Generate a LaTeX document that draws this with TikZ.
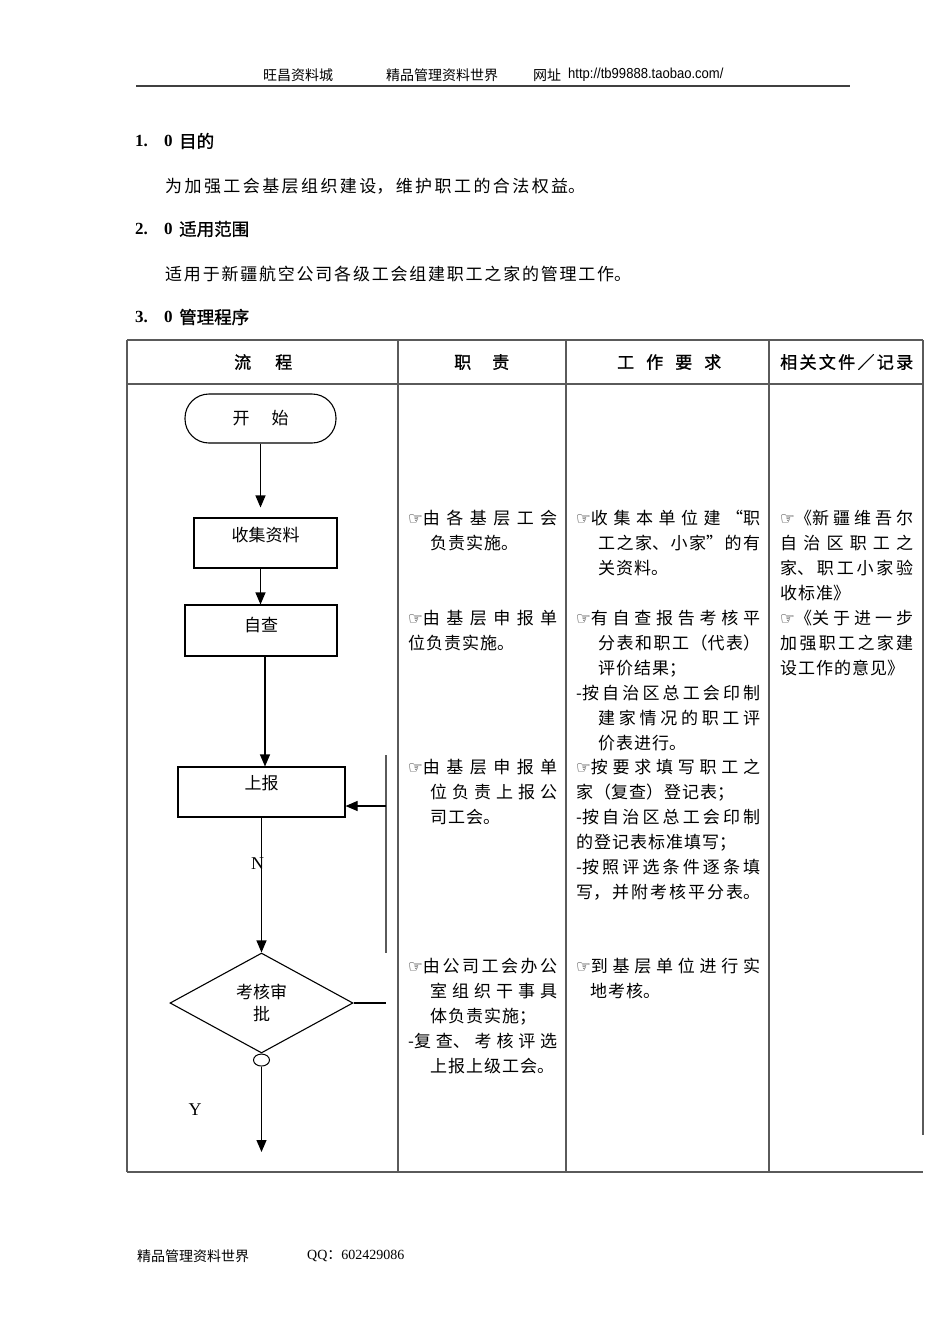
\documentclass[tikz,border=0pt]{standalone}
\usepackage{fontspec}
\setmainfont{Liberation Serif}
\newfontfamily\cjk{Noto Sans CJK SC}
\newfontfamily\cjkbf[FakeBold=1.2]{Noto Sans CJK SC}
\newfontfamily\handfont{DejaVu Sans}
\newfontfamily\narrowsans[FakeStretch=0.9]{Liberation Sans}
\usepackage{tikz}
\usetikzlibrary{positioning, arrows.meta, shapes.geometric}
\XeTeXlinebreaklocale "zh"
\XeTeXlinebreakskip=1pt plus 1fil
\newcommand{\hand}{{\handfont\fontsize{16.5}{16.5}\selectfont ☞}}
\newcommand{\jline}[2][0pt]{{\leftskip=#1\parfillskip=0pt #2\par}}
\newcommand{\rline}[2][0pt]{{\leftskip=#1\parfillskip=0pt plus 1fill #2\par}}
\definecolor{rulegray}{HTML}{5A5A5A}
\begin{document}
\begin{tikzpicture}[x=1pt,y=-1pt,
  cell/.style={anchor=base west, inner sep=0pt, text width=#1, align=justify,
    font=\cjk\fontsize{17}{25}\selectfont},
  headcell/.style={cell=#1, font=\cjkbf\fontsize{17}{25}\selectfont},
  plain/.style={anchor=west, inner sep=0pt},
  grid/.style={draw=rulegray, line width=1.2pt},
  flowbox/.style={draw, rectangle, line width=1.1pt, font=\cjk\fontsize{17}{20}\selectfont},
  terminal/.style={flowbox, rounded corners=24pt, minimum width=151pt, minimum height=49pt},
  decision/.style={draw, diamond, line width=1.1pt, minimum width=183pt, minimum height=100pt,
    inner sep=0pt, align=center, font=\cjk\fontsize{17}{22}\selectfont},
  joint/.style={draw, ellipse, line width=1pt, minimum width=16pt, minimum height=12pt, inner sep=0pt},
  flow/.style={draw, line width=1.1pt, -{Triangle[width=10pt,length=12pt]}},
  flowline/.style={draw, line width=1.1pt},
  backline/.style={draw=rulegray, line width=1.8pt},
  letter/.style={inner sep=0pt, font=\fontsize{18}{18}\selectfont}]

  \fill[white] (0,0) rectangle (950,1344);
  \useasboundingbox (0,0) rectangle (950,1344);

  % page header
  \node[plain, font=\cjk\fontsize{14}{14}\selectfont] (hd1) at (263,75) {旺昌资料城};
  \node[plain, font=\cjk\fontsize{14}{14}\selectfont] (hd2) at (386,75) {精品管理资料世界};
  \node[plain, font=\cjk\fontsize{14}{14}\selectfont] (hd3) at (533,75) {网址};
  \node[plain, font=\narrowsans\fontsize{14.5}{14.5}\selectfont] (hd4) at (568,75) {http://tb99888.taobao.com/};
  \draw[draw=black!75, line width=2pt] (136,86) -- (850,86);

  % sections
  \node[plain, font=\bfseries\fontsize{17}{17}\selectfont] (s1a) at (135,141) {1.};
  \node[plain, font=\bfseries\fontsize{17}{17}\selectfont] (s1b) at (164,141) {0};
  \node[plain, font=\cjkbf\fontsize{17.5}{17.5}\selectfont] (s1c) at (179,141) {目的};
  \node[cell=420pt] (p1) at (165,192.5) {\jline{为加强工会基层组织建设，维护职工的合法权益。}};

  \node[plain, font=\bfseries\fontsize{17}{17}\selectfont] (s2a) at (135,229) {2.};
  \node[plain, font=\bfseries\fontsize{17}{17}\selectfont] (s2b) at (164,229) {0};
  \node[plain, font=\cjkbf\fontsize{17.5}{17.5}\selectfont] (s2c) at (179,229) {适用范围};
  \node[cell=466pt] (p2) at (165,280.5) {\jline{适用于新疆航空公司各级工会组建职工之家的管理工作。}};

  \node[plain, font=\bfseries\fontsize{17}{17}\selectfont] (s3a) at (135,317) {3.};
  \node[plain, font=\bfseries\fontsize{17}{17}\selectfont] (s3b) at (164,317) {0};
  \node[plain, font=\cjkbf\fontsize{17.5}{17.5}\selectfont] (s3c) at (179,317) {管理程序};

  % table grid
  \draw[grid] (127,340) -- (923,340);
  \draw[grid] (127,384) -- (923,384);
  \draw[grid] (127,1172) -- (923,1172);
  \foreach \x in {127,398,566,769} {
    \draw[grid] (\x,340) -- (\x,1172);
  }
  \draw[grid] (923,340) -- (923,1135);

  % table head
  \node[headcell=58pt] (h1) at (234,368.5) {\jline{流程}};
  \node[headcell=55pt] (h2) at (454,368.5) {\jline{职责}};
  \node[headcell=104pt] (h3) at (617,368.5) {\jline{工作要求}};
  \node[headcell=133pt] (h4) at (780,368.5) {\jline{相关文件／记录}};

  % flow chart
  \node[terminal] (start) at (260.5,418.5) {开\hspace{22pt}始};
  \node[flowbox, minimum width=143pt, minimum height=50pt, text depth=17pt] (collect) at (265.5,543) {收集资料};
  \node[flowbox, minimum width=152pt, minimum height=51pt, text depth=12pt] (check) at (261,630.5) {自查};
  \node[flowbox, minimum width=167pt, minimum height=50pt, text depth=19pt] (report) at (261.5,792) {上报};
  \node[decision] (review) at (261.5,1003) {考核审\\批};
  \node[joint, below=0pt of review] (tap) {};
  \node[letter] (ylab) at (195,1110) {Y};

  \coordinate (stub) at (261.5,1152);
  \coordinate (fbtop) at (386,755);
  \coordinate (fbbot) at (386,953);
  \coordinate (fbin) at (386,806);
  \coordinate (fbend) at (386,1003);

  \draw[flow, shorten >=10pt] (start.south) -- (start.south |- collect.north);
  \draw[flow] (start.south |- collect.south) -- (start.south |- check.north);
  \draw[flow] ([xshift=4pt]check.south) -- ([xshift=4pt]check.south |- report.north);
  \draw[flow] (report.south) -- node[letter, pos=0.34, xshift=-4pt] (nlab) {N} (review.north);
  \draw[flow] (tap.south) -- (stub);
  \draw[flowline] (review.east) -- (fbend);
  \draw[backline] (fbtop) -- (fbbot);
  \draw[flow] (fbin) -- (fbin -| report.east);

  % duties
  \node[cell=149pt] (d1) at (408,524.5) {\jline{\hand 由各基层工会}\rline[22pt]{负责实施。}};
  \node[cell=149pt] (d2) at (408,624.5) {\jline{\hand 由基层申报单}\rline{位负责实施。}};
  \node[cell=149pt] (d3) at (408,773.5) {\jline{\hand 由基层申报单}\jline[22pt]{位负责上报公}\rline[22pt]{司工会。}};
  \node[cell=149pt] (d4) at (408,972.5) {\jline{\hand 由公司工会办公}\jline[22pt]{室组织干事具}%
    \rline[22pt]{体负责实施；}\jline{-复查、考核评选}\rline[22pt]{上报上级工会。}};

  % requirements
  \node[cell=184pt] (w1) at (576,524.5) {\jline{\hand 收集本单位建“职}\jline[22pt]{工之家、小家”的有}\rline[22pt]{关资料。}};
  \node[cell=184pt] (w2) at (576,624.5) {\jline{\hand 有自查报告考核平}\jline[22pt]{分表和职工（代表）}%
    \rline[22pt]{评价结果；}\jline{-按自治区总工会印制}\jline[22pt]{建家情况的职工评}\rline[22pt]{价表进行。}};
  \node[cell=184pt] (w3) at (576,773.5) {\jline{\hand 按要求填写职工之}\rline{家（复查）登记表；}%
    \jline{-按自治区总工会印制}\rline{的登记表标准填写；}\jline{-按照评选条件逐条填}\jline{写，并附考核平分表。}};
  \node[cell=184pt] (w4) at (576,972.5) {\jline{\hand 到基层单位进行实}\rline[14pt]{地考核。}};

  % documents
  \node[cell=133pt] (f1) at (780,524.5) {\jline{\hand 《新疆维吾尔}\jline{自治区职工之}\jline{家、职工小家验}%
    \rline{收标准》}\jline{\hand 《关于进一步}\jline{加强职工之家建}\rline{设工作的意见》}};

  % page footer
  \node[plain, font=\cjk\fontsize{14}{14}\selectfont] (ft1) at (137,1256) {精品管理资料世界};
  \node[plain, font=\fontsize{14}{14}\selectfont] (ft2) at (307,1256) {QQ{\cjk ：}602429086};
\end{tikzpicture}
\end{document}
